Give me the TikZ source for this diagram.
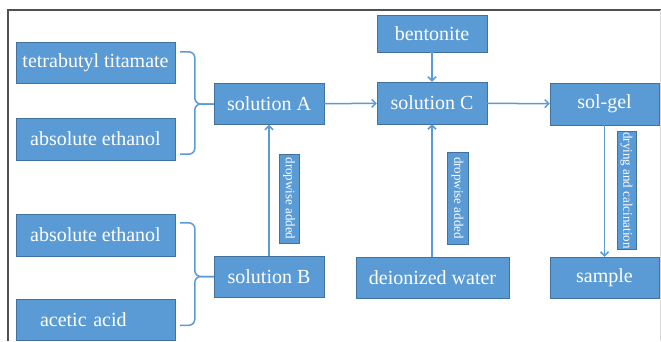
\documentclass[tikz,border=0pt]{standalone}
\usepackage{fontspec}
\setmainfont{Liberation Serif}
\usetikzlibrary{arrows.meta,calc}
\definecolor{boxblue}{HTML}{5B9BD5}
\definecolor{boxline}{HTML}{41719C}
\definecolor{framegray}{HTML}{505050}
\begin{document}
\begin{tikzpicture}[x=1pt,y=-1pt,
  every path/.style={>={Straight Barb[length=4pt,width=8pt]}},
  box/.style={draw=boxline,fill=boxblue,text=white,rectangle,inner sep=0pt,font=\fontsize{20}{23}\selectfont},
  tag/.style={draw=boxline,fill=boxblue,text=white,rectangle,rotate=-90,inner sep=1pt,font=\fontsize{13}{15}\selectfont},
  link/.style={draw=boxblue,line width=1.5pt}]
\useasboundingbox (0,0) rectangle (661,341);
\draw[framegray,line width=1.5pt] (8,341) -- (8,10) -- (661,10);
\draw[gray!30] (660,10) -- (660,341);
% inputs
\node[box,minimum width=159,minimum height=41] (tt)  at (95.5,62.5) {tetrabutyl titamate};
\node[box,minimum width=159,minimum height=42] (ae1) at (95.5,139)  {absolute ethanol};
\node[box,minimum width=159,minimum height=42] (ae2) at (95.5,235)  {absolute ethanol};
\node[box,minimum height=41,text width=111,inner xsep=24,align=left] (aa) at (95.5,320) {acetic acid};
% solutions
\node[box,minimum width=110,minimum height=41] (A)    at (269,104)   {solution A};
\node[box,minimum width=110,minimum height=41] (B)    at (269,276.5) {solution B};
\node[box,minimum width=110,minimum height=37] (bent) at (432,33.5)  {bentonite};
\node[box,minimum width=110,minimum height=42] (C)    at (432,103)   {solution C};
\node[box,minimum width=153,minimum height=41] (water) at (432.5,277.5) {deionized water};
\node[box,minimum width=109,minimum height=42] (gel)  at (604.5,104) {sol-gel};
\node[box,minimum width=109,minimum height=41] (smp)  at (604.5,277.5) {sample};
% labels
\node[tag,minimum width=89,minimum height=20]  (labA) at (289,198.5) {dropwise added};
\node[tag,minimum width=92,minimum height=21]  (labC) at (457.5,198) {dropwise added};
\node[tag,minimum width=117,minimum height=19] (labD) at (626.5,190.5) {drying and calcination};
% braces
\coordinate (ttend)  at ($(tt.north east)+(5,10)$);
\coordinate (ae1end) at ($(ae1.south east)+(5,-6)$);
\coordinate (ae2end) at ($(ae2.north east)+(5,9)$);
\coordinate (aaend)  at ($(aa.north east)+(5,26)$);
\draw[link,rounded corners=6pt] (ttend)  -| ($(A.west)+(-19,0)$) -- (A.west);
\draw[link,rounded corners=6pt] (ae1end) -| ($(A.west)+(-19,0)$) -- (A.west);
\draw[link,rounded corners=6pt] (ae2end) -| ($(B.west)+(-19,0)$) -- (B.west);
\draw[link,rounded corners=6pt] (aaend)  -| ($(B.west)+(-19,0)$) -- (B.west);
% arrows
\draw[link,->] (A) -- (C);
\draw[link,->] (C) -- (gel);
\draw[link,->] (bent) -- (C);
\draw[link,->] (B) -- (A);
\draw[link,->] (water.north -| C) -- (C.south);
\draw[link,->] (gel) -- (smp);
\end{tikzpicture}
\end{document}
